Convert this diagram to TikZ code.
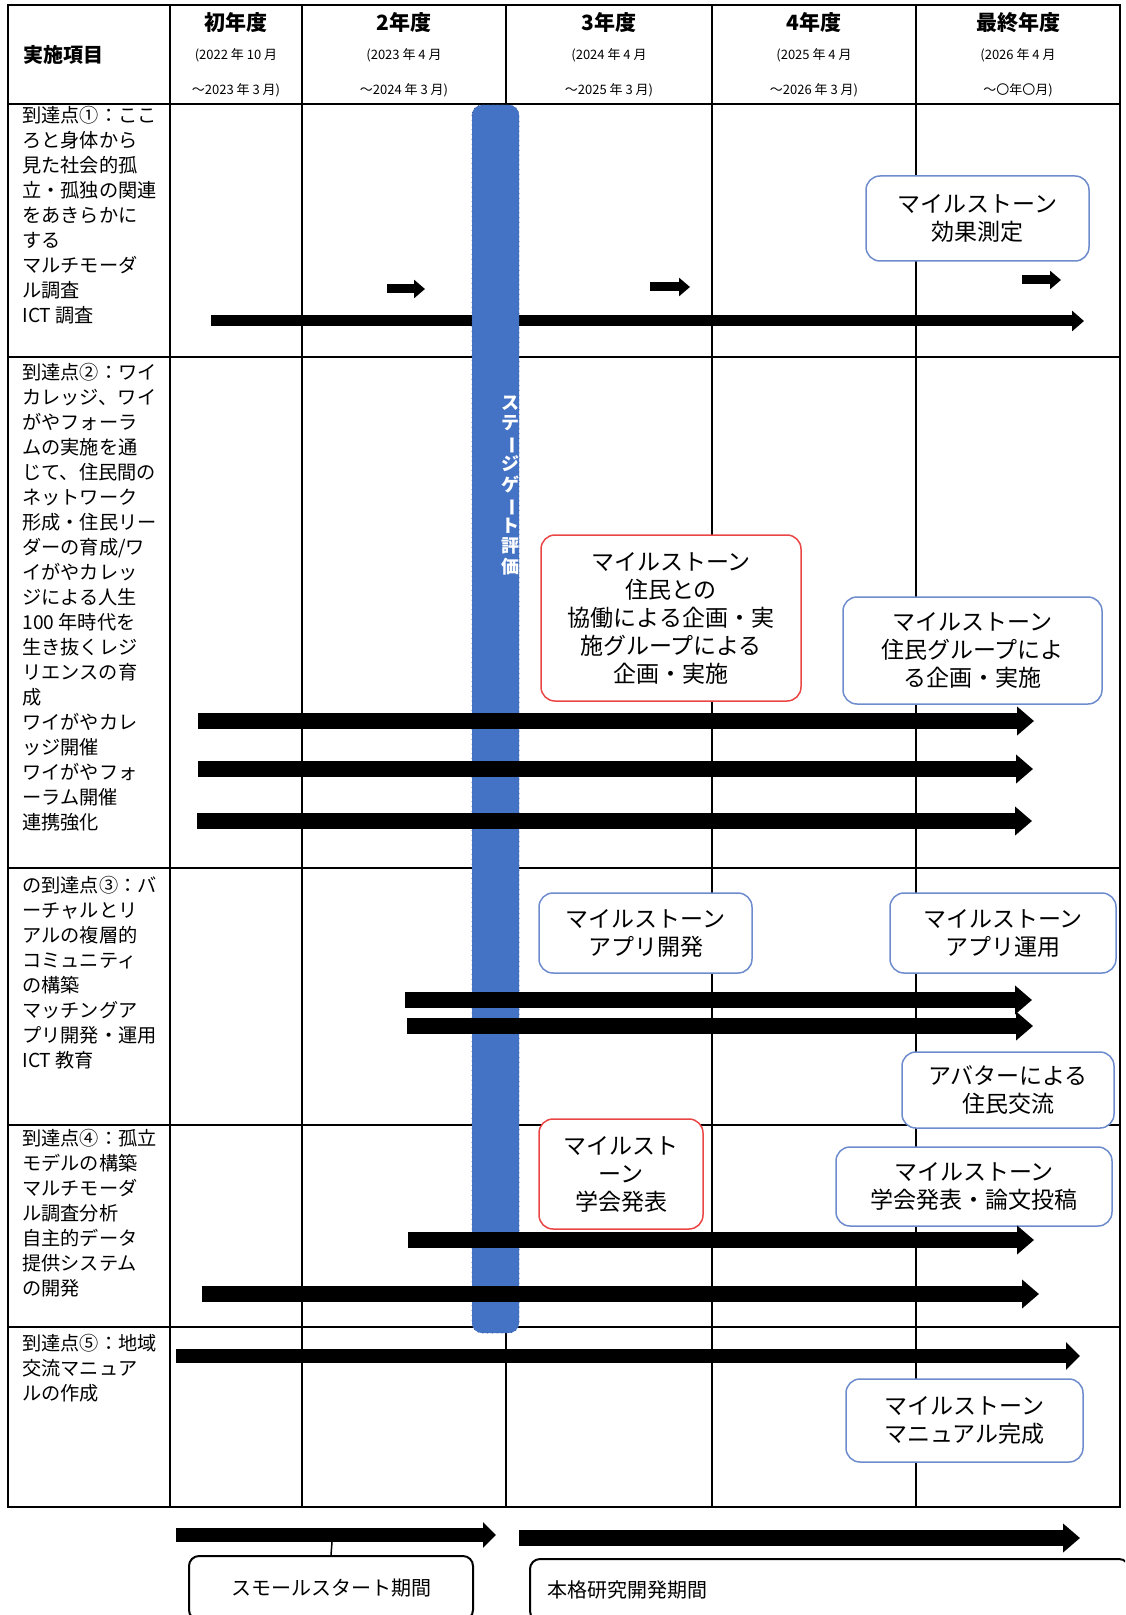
\documentclass[tikz,border=0pt]{standalone}
\usepackage{fontspec}
\usepackage{graphicx}
\setmainfont{Noto Sans CJK JP}
\usetikzlibrary{arrows.meta}

\definecolor{gateblue}{RGB}{68,114,196}
\definecolor{msblue}{RGB}{110,140,205}
\definecolor{msred}{RGB}{235,70,70}
\newcommand{\choon}{\rotatebox[origin=c]{-90}{ー}}

\tikzset{
  goal/.style={anchor=north west, align=left, inner sep=0pt, font=\fontsize{9.6}{12.5}\selectfont},
  yearhead/.style={inner sep=0pt, font=\bfseries\fontsize{10.5}{12}\selectfont},
  datehead/.style={inner sep=0pt, font=\fontsize{6.5}{8}\selectfont},
  bluestone/.style={draw=msblue, line width=0.75pt, rounded corners=7pt, fill=white, align=center, inner sep=0pt, font=\fontsize{11.5}{14}\selectfont},
  redstone/.style={bluestone, draw=msred},
  periodbox/.style={draw, line width=1pt, rounded corners=5pt, fill=white, font=\fontsize{10}{12}\selectfont},
  timebar/.style={line width=8pt, -{Triangle[width=14pt,length=8.5pt]}},
  thinbar/.style={line width=5.5pt, -{Triangle[width=10pt,length=6pt]}},
  tinybar/.style={line width=4.5pt, -{Triangle[width=9pt,length=5.5pt]}}
}

\begin{document}
\begin{tikzpicture}[x=0.5pt,y=-0.5pt]
\useasboundingbox (0,0) rectangle (1125,1615);
\clip (0,0) rectangle (1125,1615);

% table lines
\draw[line width=0.75pt] (170,5) -- (170,1507);
\draw[line width=0.75pt] (302,5) -- (302,1507);
\draw[line width=0.75pt] (506,5) -- (506,1507);
\draw[line width=0.75pt] (712,5) -- (712,1507);
\draw[line width=0.75pt] (916,5) -- (916,1507);
\draw[line width=0.75pt] (8,104) -- (1120,104);
\draw[line width=0.75pt] (8,357) -- (1120,357);
\draw[line width=0.75pt] (8,868) -- (1120,868);
\draw[line width=0.75pt] (8,1125) -- (1120,1125);
\draw[line width=0.75pt] (8,1327) -- (1120,1327);
\draw[line width=1pt] (8,5) rectangle (1120,1507);

% header
\node[anchor=west, inner sep=0pt, font=\bfseries\fontsize{10}{12}\selectfont] (item) at (23,55) {実施項目};
\node[yearhead] (y1) at (236,23) {初年度};
\node[yearhead] (y2) at (404,23) {2年度};
\node[yearhead] (y3) at (609,23) {3年度};
\node[yearhead] (y4) at (814,23) {4年度};
\node[yearhead] (y5) at (1018,23) {最終年度};
\node[datehead] (d1a) at (236,55) {(2022 年 10 月};
\node[datehead] (d1b) at (236,90) {～2023 年 3 月)};
\node[datehead] (d2a) at (404,55) {(2023 年 4 月};
\node[datehead] (d2b) at (404,90) {～2024 年 3 月)};
\node[datehead] (d3a) at (609,55) {(2024 年 4 月};
\node[datehead] (d3b) at (609,90) {～2025 年 3 月)};
\node[datehead] (d4a) at (814,55) {(2025 年 4 月};
\node[datehead] (d4b) at (814,90) {～2026 年 3 月)};
\node[datehead] (d5a) at (1018,55) {(2026 年 4 月};
\node[datehead] (d5b) at (1018,90) {～〇年〇月)};

% row labels
\node[goal] (goal1) at (22,106) {到達点①：ここ\\ろと身体から\\見た社会的孤\\立・孤独の関連\\をあきらかに\\する\\マルチモーダ\\ル調査\\ICT 調査};
\node[goal] (goal2) at (22,363) {到達点②：ワイ\\カレッジ、ワイ\\がやフォーラ\\ムの実施を通\\じて、住民間の\\ネットワーク\\形成・住民リー\\ダーの育成/ワ\\イがやカレッ\\ジによる人生\\100 年時代を\\生き抜くレジ\\リエンスの育\\成\\ワイがやカレ\\ッジ開催\\ワイがやフォ\\ーラム開催\\連携強化};
\node[goal] (goal3) at (22,876) {の到達点③：バ\\ーチャルとリ\\アルの複層的\\コミュニティ\\の構築\\マッチングア\\プリ開発・運用\\ICT 教育};
\node[goal] (goal4) at (22,1129) {到達点④：孤立\\モデルの構築\\マルチモーダ\\ル調査分析\\自主的データ\\提供システム\\の開発};
\node[goal] (goal5) at (22,1334) {到達点⑤：地域\\交流マニュア\\ルの作成};

% row 1
\draw[thinbar] (211,321) -- (1084,321);
\draw[tinybar] (387,289) -- (425,289);
\draw[tinybar] (650,287) -- (690,287);
\draw[tinybar] (1022,280) -- (1061,280);

% stage gate
\draw[fill=gateblue, draw=gateblue!75!black, dotted, rounded corners=5pt] (472,105) rectangle (519,1333);
\node[anchor=north, align=center, inner sep=0pt, text=white, font=\bfseries\fontsize{9}{10.25}\selectfont] (gate) at (510,395) {ス\\テ\\\choon\\ジ\\ゲ\\\choon\\ト\\評\\価};

% rows 2 and 3
\draw[timebar] (198,721) -- (1034,721);
\draw[timebar] (198,769) -- (1033,769);
\draw[timebar] (197,821) -- (1032,821);
\draw[timebar] (405,1000) -- (1032,1000);
\draw[timebar] (407,1026) -- (1033,1026);

% row 5
\draw[line width=7pt, -{Triangle[width=13.5pt,length=7pt]}] (176,1356) -- (1080,1356);

% milestones
\node[bluestone, minimum width=111.5pt, minimum height=42.5pt] (effect) at (977.5,218.5) {マイルストーン\\効果測定};
\node[redstone, minimum width=130pt, minimum height=83pt] (kyodo) at (671,618) {マイルストーン\\住民との\\協働による企画・実\\施グループによる\\企画・実施};
\node[bluestone, minimum width=129.5pt, minimum height=53.5pt] (groupplan) at (972.5,650.5) {マイルストーン\\住民グループによ\\る企画・実施};
\node[bluestone, minimum width=106.5pt, minimum height=40pt] (appdev) at (645.5,933) {マイルストーン\\アプリ開発};
\node[bluestone, minimum width=113pt, minimum height=40pt] (appuse) at (1003,933) {マイルストーン\\アプリ運用};
\node[bluestone, minimum width=106pt, minimum height=38pt] (avatar) at (1008,1090) {アバターによる\\住民交流};
\node[redstone, minimum width=82pt, minimum height=55pt] (gakkai) at (621,1174) {マイルスト\\ーン\\学会発表};
\node[bluestone, minimum width=138pt, minimum height=39.5pt] (ronbun) at (974,1186.5) {マイルストーン\\学会発表・論文投稿};
\node[bluestone, minimum width=118.5pt, minimum height=41.5pt] (manual) at (964.5,1420.5) {マイルストーン\\マニュアル完成};

% row 4
\draw[timebar] (408,1240) -- (1034,1240);
\draw[timebar] (202,1294) -- (1039,1294);

% periods
\draw[line width=7pt, -{Triangle[width=12.5pt,length=6.5pt]}] (176,1535) -- (496,1535);
\draw[timebar] (519,1538) -- (1080,1538);
\coordinate (tick) at (332,1542);
\node[periodbox, minimum width=142pt, minimum height=32pt] (smallstart) at (331,1588) {スモールスタート期間};
\node[periodbox, anchor=west, align=left, text width=282.5pt, inner xsep=8.5pt, minimum height=31pt] (fullscale) at (529,1590) {本格研究開発期間};
\draw[line width=0.75pt] (tick) -- (smallstart.north);

\end{tikzpicture}
\end{document}
